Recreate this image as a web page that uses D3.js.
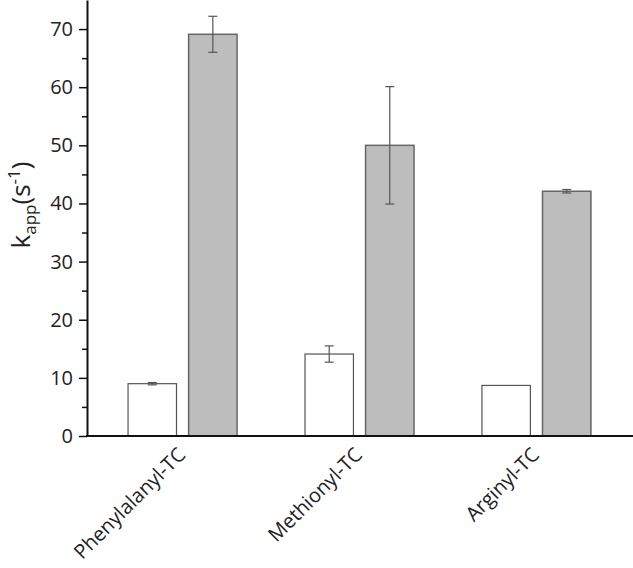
<!DOCTYPE html>
<html>
<head>
<meta charset="utf-8">
<script src="https://cdn.jsdelivr.net/npm/d3@7"></script>
<style>
  body { margin: 0; background: #fff; }
  text { font-family: "Open Sans", "DejaVu Sans", sans-serif; }
</style>
</head>
<body>
<div id="chart"></div>
<script>
// categories and the two series (open bars / grey bars), with error values
const categories = ["Phenylalanyl-TC", "Methionyl-TC", "Arginyl-TC"]
const openValues = [9.0, 14.1, 8.7]
const openErrors = [0.2, 1.4, 0]
const greyValues = [69.1, 50.0, 42.1]
const greyErrors = [3.1, 10.1, 0.3]
const yTicks = [0, 10, 20, 30, 40, 50, 60, 70]

const data = categories.map((c, i) => ({
    cat: c,
    bars: [
        { key: "open", value: openValues[i], err: openErrors[i] },
        { key: "grey", value: greyValues[i], err: greyErrors[i] }
    ]
}))

const W = 633, H = 568
const margin = { left: 87, right: 632, top: 0, bottom: 436 }

const svg = d3.select("#chart").append("svg")
    .attr("width", W)
    .attr("height", H)

const x = d3.scalePoint()
    .domain(categories)
    .range([margin.left, margin.right])
    .padding(0.54)

const sub = d3.scaleBand()
    .domain(["open", "grey"])
    .range([-54.5, 54.5])
    .paddingInner(0.2)

const y = d3.scaleLinear()
    .domain([0, 75])
    .range([margin.bottom, margin.top])

const fill = { open: "#ffffff", grey: "#bdbdbd" }
const stroke = { open: "#555555", grey: "#666666" }

// bars
const groups = svg.selectAll(".group")
    .data(data)
    .join("g")
    .attr("class", "group")
    .attr("transform", d => `translate(${x(d.cat)},0)`)

groups.selectAll("rect")
    .data(d => d.bars)
    .join("rect")
    .attr("x", d => sub(d.key))
    .attr("y", d => y(d.value))
    .attr("width", sub.bandwidth())
    .attr("height", d => y(0) - y(d.value))
    .attr("fill", d => fill[d.key])
    .attr("stroke", d => stroke[d.key])
    .attr("stroke-width", d => d.key === "grey" ? 1.5 : 1.2)

// error bars
const err = groups.selectAll(".err")
    .data(d => d.bars.filter(b => b.err > 0))
    .join("g")
    .attr("class", "err")
    .attr("stroke", "#555")
    .attr("stroke-width", 1.2)
const cx = d => sub(d.key) + sub.bandwidth() / 2
err.append("line")
    .attr("x1", cx).attr("x2", cx)
    .attr("y1", d => y(d.value + d.err))
    .attr("y2", d => y(d.value - d.err))
err.append("line")
    .attr("x1", d => cx(d) - 4.5).attr("x2", d => cx(d) + 4.5)
    .attr("y1", d => y(d.value + d.err)).attr("y2", d => y(d.value + d.err))
err.append("line")
    .attr("x1", d => cx(d) - 4.5).attr("x2", d => cx(d) + 4.5)
    .attr("y1", d => y(d.value - d.err)).attr("y2", d => y(d.value - d.err))

// y axis: minor ticks every 5, major every 10
svg.append("g")
    .attr("transform", `translate(${margin.left},0)`)
    .call(d3.axisLeft(y).tickValues(d3.range(5, 75, 10)).tickSize(5).tickFormat(""))
    .call(g => g.select(".domain").remove())
    .call(g => g.selectAll("line").attr("stroke", "#111").attr("stroke-width", 1.5))

const yAxis = svg.append("g")
    .attr("transform", `translate(${margin.left},0)`)
    .call(d3.axisLeft(y).tickValues(yTicks).tickSize(8).tickSizeOuter(0).tickPadding(6))
yAxis.select(".domain").attr("stroke", "#111").attr("stroke-width", 2)
yAxis.selectAll(".tick line").attr("stroke", "#111").attr("stroke-width", 1.5)
yAxis.selectAll(".tick text")
    .attr("font-size", 20)
    .attr("fill", "#222")
    .style("font-family", "'Open Sans', sans-serif")

// x axis line
svg.append("line")
    .attr("x1", margin.left - 1).attr("x2", margin.right + 1)
    .attr("y1", margin.bottom).attr("y2", margin.bottom)
    .attr("stroke", "#111")
    .attr("stroke-width", 2)

// category labels
svg.selectAll(".cat")
    .data(categories)
    .join("text")
    .attr("class", "cat")
    .attr("transform", d => `translate(${x(d) + 4},${margin.bottom + 20}) rotate(-45)`)
    .attr("text-anchor", "end")
    .attr("font-size", 20)
    .attr("fill", "#222")
    .text(d => d)

// y label  k_app (s^-1)
const yl = svg.append("text")
    .attr("transform", `translate(30,205) rotate(-90)`)
    .attr("text-anchor", "middle")
    .attr("font-size", 26)
    .attr("fill", "#222")
yl.append("tspan").text("k")
yl.append("tspan").attr("font-size", 17).attr("dy", 6).text("app")
yl.append("tspan").attr("dy", -6).text("(s")
yl.append("tspan").attr("font-size", 17).attr("dy", -10).text("-1")
yl.append("tspan").attr("dy", 10).text(")")
</script>
</body>
</html>
